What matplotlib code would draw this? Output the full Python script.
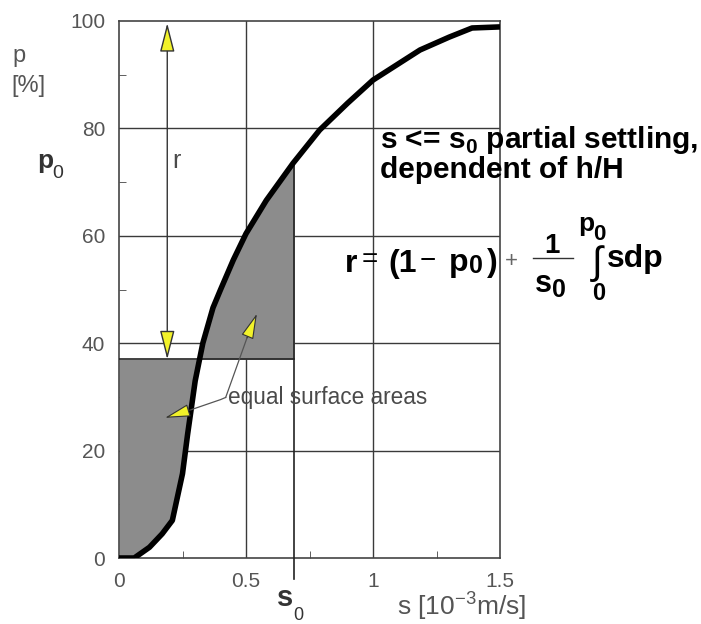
import numpy as np
import matplotlib
matplotlib.use("Agg")
import matplotlib.pyplot as plt

plt.rcParams['font.family'] = ['Liberation Sans', 'DejaVu Sans']
plt.rcParams['mathtext.fontset'] = 'custom'
plt.rcParams['mathtext.rm'] = 'Liberation Sans'
plt.rcParams['mathtext.bf'] = 'Liberation Sans:bold'

# settling velocity curve  s [1e-3 m/s]  vs  fraction p [%]
s_curve = [0, 0.06, 0.12, 0.17, 0.21, 0.25, 0.27, 0.30, 0.33, 0.37, 0.40,
           0.45, 0.50, 0.58, 0.685, 0.79, 0.90, 1.0, 1.185, 1.30, 1.39, 1.5]
p_curve = [0, 0.0, 2.0, 4.5, 7.0, 15.7, 23, 33, 40, 46.6, 50,
           55.5, 60.4, 66.6, 73.5, 79.7, 84.7, 89, 94.6, 97, 98.7, 98.9]

s0 = 0.69
p0 = 37.0

x_ticks = [0, 0.5, 1, 1.5]
x_ticklabels = ["0", "0.5", "1", "1.5"]
y_ticks = [0, 20, 40, 60, 80, 100]
x_minor = [0.25, 0.75, 1.25]
y_minor = [10, 30, 50, 70, 90]

# annotation anchors (data units)
r_arrow_s = 0.19
r_arrow_p = (37.0, 99.6)
area_text = (0.43, 29.9)
area_tip1 = (0.543, 45.5)
area_base1 = (0.504, 41.0)
area_tip2 = (0.181, 26.1)
area_base2 = (0.283, 27.6)
area_knot2 = (0.40, 29.5)

W, H = 701, 624
GRAY = "#8c8c8c"
YEL = "#f2f22a"
TXT = "#4a4a4a"


def fx(px):
    return px / W


def fy(py):
    return 1 - py / H


def ftext(px, py, s, **kw):
    kw.setdefault("va", "baseline")
    return fig.text(fx(px), fy(py), s, **kw)


fig = plt.figure(figsize=(W / 100, H / 100), dpi=100)
ax = fig.add_axes([fx(119), fy(558), fx(500) - fx(119), fy(21) - fy(558)])
ax.set_xlim(0, 1.5)
ax.set_ylim(0, 100)

# grid
for xv in [0.5, 1.0]:
    ax.axvline(xv, color="#3a3a3a", lw=1.0, zorder=1)
for yv in [20, 40, 60, 80]:
    ax.axhline(yv, color="#3a3a3a", lw=1.0, zorder=1)

# shaded equal areas
pp = np.linspace(0, 100, 2001)
s_of_p = np.interp(pp, p_curve, s_curve)
p_at_s0 = np.interp(s0, s_curve, p_curve)

m1 = pp <= p0
ax.fill_betweenx(pp[m1], 0, s_of_p[m1], color=GRAY, lw=0, zorder=2)
m2 = (pp >= p0) & (pp <= p_at_s0)
ax.fill_betweenx(pp[m2], s_of_p[m2], s0, color=GRAY, lw=0, zorder=2)

ax.plot([0, s0], [p0, p0], color="#222222", lw=1.2, zorder=3)
ax.plot([s0, s0], [-4, p_at_s0], color="#222222", lw=1.2, zorder=3,
        clip_on=False)

# curve
ax.plot(s_curve, p_curve, color="black", lw=4.0, solid_capstyle="butt",
        zorder=5)

# r double arrow
ax.annotate("", xy=(r_arrow_s, r_arrow_p[1]), xytext=(r_arrow_s, r_arrow_p[0]),
            arrowprops=dict(arrowstyle="<|-|>,head_length=18,head_width=4.6",
                            mutation_scale=1, fc=YEL, ec="#333333", lw=1.0,
                            shrinkA=0, shrinkB=0), zorder=6)

# equal surface areas
ax.plot([area_text[0] - 0.01, area_base1[0]], [area_text[1], area_base1[1]],
        color="#555555", lw=0.9, zorder=6)
ax.plot([area_text[0] - 0.01, area_knot2[0], area_base2[0]],
        [area_text[1], area_knot2[1], area_base2[1]],
        color="#555555", lw=0.9, zorder=6)
for tip, base in [(area_tip1, area_base1), (area_tip2, area_base2)]:
    ax.annotate("", xy=tip, xytext=base,
                arrowprops=dict(arrowstyle="-|>,head_length=16,head_width=4",
                                mutation_scale=1, fc=YEL, ec="#333333", lw=0.8,
                                shrinkA=0, shrinkB=0), zorder=7)
ax.text(area_text[0], area_text[1], "equal surface areas", fontsize=16.3,
        color=TXT, va="center", ha="left", zorder=6)

# axes styling
ax.set_xticks(x_ticks)
ax.set_xticklabels(x_ticklabels)
ax.set_yticks(y_ticks)
ax.set_xticks(x_minor, minor=True)
ax.set_yticks(y_minor, minor=True)
ax.tick_params(which="major", length=0, labelsize=15, labelcolor="#555555")
ax.tick_params(axis="y", which="major", pad=10)
ax.tick_params(axis="x", which="major", pad=10)
ax.tick_params(which="minor", length=5, direction="in", color="#444444")
for sp in ax.spines.values():
    sp.set_color("#444444")
    sp.set_linewidth(1.2)

# labels outside the axes
ftext(12, 62, "p", fontsize=17, color="#555555")
ftext(11, 92, "[%]", fontsize=17, color="#555555")
ftext(37, 168, "p", fontsize=19, fontweight="bold", color="#333333")
ftext(52, 178, "0", fontsize=14, color="#333333")
ftext(277, 606, "s", fontsize=21, fontweight="bold", color="#333333")
ftext(293, 620, "0", fontsize=13, color="#333333")
ftext(397, 615, r"s [10$^{\mathregular{-3}}$m/s]", fontsize=19,
      color="#555555")
ftext(172, 168, "r", fontsize=18, color=TXT)

# explanatory text
ftext(380, 148, r"s <= s$_{\mathbf{0}}$ partial settling,", fontsize=21.5,
      fontweight="bold")
ftext(380, 178, "dependent of h/H", fontsize=21.5, fontweight="bold")

# formula r = (1 - p0) + 1/s0 * int_0^p0 s dp
ftext(345, 272, "r", fontsize=23, fontweight="bold")
ftext(362, 267, "=", fontsize=20)
ftext(388, 272, "(1", fontsize=23, fontweight="bold")
ftext(420, 268, "\u2212", fontsize=20)
ftext(449, 271, "p", fontsize=23, fontweight="bold")
ftext(469, 273, "0", fontsize=18, fontweight="bold")
ftext(487, 271, ")", fontsize=23, fontweight="bold")
ftext(505, 267, "+", fontsize=16, color="#666666")
ftext(552, 253, "1", fontsize=20, fontweight="bold", ha="center")
fig.add_artist(plt.Line2D([fx(533), fx(573)], [fy(258), fy(258)],
                          color="#333333", lw=1.0))
ftext(535, 292, "s", fontsize=22, fontweight="bold")
ftext(552, 297, "0", fontsize=18, fontweight="bold")
ftext(578, 231, "p", fontsize=19, fontweight="bold")
ftext(593, 240, "0", fontsize=16, fontweight="bold")
ftext(592, 274, "\u222b", fontsize=28)
ftext(592, 300, "0", fontsize=17, fontweight="bold")
ftext(607, 267, "sdp", fontsize=23, fontweight="bold")

fig.savefig("out.png", dpi=100)
